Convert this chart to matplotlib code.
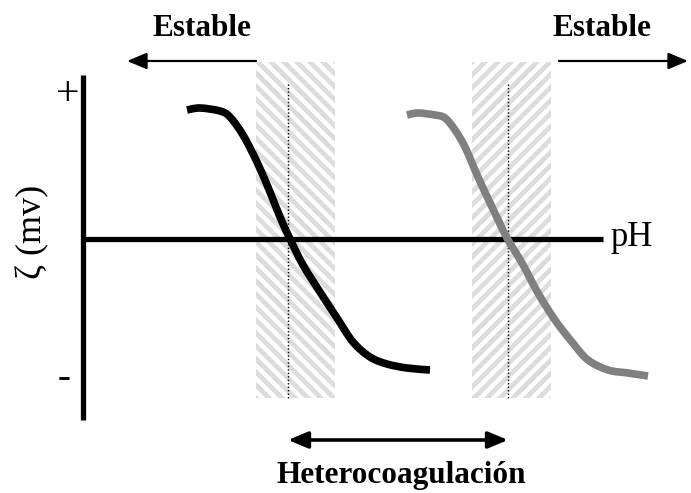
import numpy as np
import matplotlib
matplotlib.use('Agg')
import matplotlib.pyplot as plt
from matplotlib.patches import Rectangle, PathPatch
from matplotlib.path import Path

plt.rcParams['font.family'] = ['Liberation Serif', 'DejaVu Serif']

# Schematic data (x grows with pH, y grows downward = more negative zeta)
curve_a_x = [187, 200, 220, 230, 243, 257, 270, 280, 290, 303, 320, 337, 353, 370, 387, 407, 430]
curve_a_y = [110, 108, 111, 117, 135, 162, 192, 217, 239, 265, 292, 318, 342, 357, 364, 368, 370]
curve_b_x = [407, 418, 435, 445, 455, 465, 478, 492, 507, 522, 538, 555, 572, 588, 608, 628, 648]
curve_b_y = [115, 113, 115, 118, 130, 147, 177, 207, 238, 263, 293, 320, 342, 360, 370, 373, 376]

iep_x = [288, 508]            # isoelectric points
band_left = [256, 472]
band_right = [335, 551]
band_top, band_bottom = 62, 398
hatch_dir = [1, -1]

axis_x0, axis_x1 = 83, 603
axis_y0, axis_y1 = 75, 420
zero_y = 239


def smooth_path(xs, ys):
    # Catmull-Rom through the points, drawn as cubic bezier segments
    p = np.column_stack([xs, ys]).astype(float)
    pts = np.vstack([p[0], p, p[-1]])
    verts = [p[0]]
    codes = [Path.MOVETO]
    for i in range(1, len(pts) - 2):
        p0, p1, p2, p3 = pts[i - 1], pts[i], pts[i + 1], pts[i + 2]
        verts += [p1 + (p2 - p0) / 6, p2 - (p3 - p1) / 6, p2]
        codes += [Path.CURVE4] * 3
    return Path(verts, codes)


fig = plt.figure(figsize=(6.91, 4.93), dpi=100)
ax = fig.add_axes([0, 0, 1, 1])
ax.set_xlim(0, 691)
ax.set_ylim(493, 0)
ax.axis('off')

# hatched bands around each isoelectric point
for x0, x1, d in zip(band_left, band_right, hatch_dir):
    clip = Rectangle((x0, band_top), x1 - x0, band_bottom - band_top,
                     facecolor='none', edgecolor='none')
    ax.add_patch(clip)
    h = band_bottom - band_top
    for c in np.arange(x0 - h - 20, x1 + h + 20, 13):
        xs = np.array([c, c + h + 40])
        ys = band_top - 20 + d * (xs - c) if d > 0 else band_bottom + 20 + d * (xs - c)
        ln, = ax.plot(xs, ys, color='#dcdcdc', lw=3.4, solid_capstyle='butt', zorder=1)
        ln.set_clip_path(clip)

# dotted isoelectric lines
for x in iep_x:
    ax.plot([x, x], [84, band_bottom], color='black', lw=1, ls=(0, (1, 1.5)), zorder=2)

# axes
ax.plot([axis_x0, axis_x0], [axis_y0, axis_y1], color='black', lw=3.8, solid_capstyle='butt', zorder=3)
ax.plot([axis_x0, axis_x1], [zero_y, zero_y], color='black', lw=3.8, solid_capstyle='butt', zorder=3)

# zeta curves
ax.add_patch(PathPatch(smooth_path(curve_a_x, curve_a_y), facecolor='none', edgecolor='black',
                       lw=5.5, capstyle='butt', joinstyle='round', zorder=4))
ax.add_patch(PathPatch(smooth_path(curve_b_x, curve_b_y), facecolor='none', edgecolor='#808080',
                       lw=5.5, capstyle='butt', joinstyle='round', zorder=4))

# labels
ax.text(68, 95, '+', fontsize=30, ha='center', va='center')
ax.text(64, 378, '-', fontsize=28, ha='center', va='center', fontweight='bold')
ax.text(611, 238, 'pH', fontsize=25, ha='left', va='center')
ax.text(33, 232, 'ζ (mv)', fontsize=26, ha='center', va='center', rotation=90)

ax.text(202, 29, 'Estable', fontsize=22.5, fontweight='bold', ha='center', va='center')
ax.text(602, 29, 'Estable', fontsize=22.5, fontweight='bold', ha='center', va='center')
ax.text(401, 475, 'Heterocoagulación', fontsize=22.5, fontweight='bold', ha='center', va='center')

arrow_kw = dict(arrowstyle='-|>,head_length=0.6,head_width=0.25', color='black',
                lw=1.6, mutation_scale=20, shrinkA=0, shrinkB=0)
ax.annotate('', xy=(127, 61), xytext=(band_left[0], 61), arrowprops=arrow_kw)
ax.annotate('', xy=(688, 61), xytext=(559, 61), arrowprops=arrow_kw)
ax.annotate('', xy=(iep_x[1], 440), xytext=(iep_x[0], 440),
            arrowprops=dict(arrowstyle='<|-|>,head_length=0.6,head_width=0.25', color='black',
                            lw=2.6, mutation_scale=20, shrinkA=0, shrinkB=0))

fig.savefig('out.png', dpi=100)
